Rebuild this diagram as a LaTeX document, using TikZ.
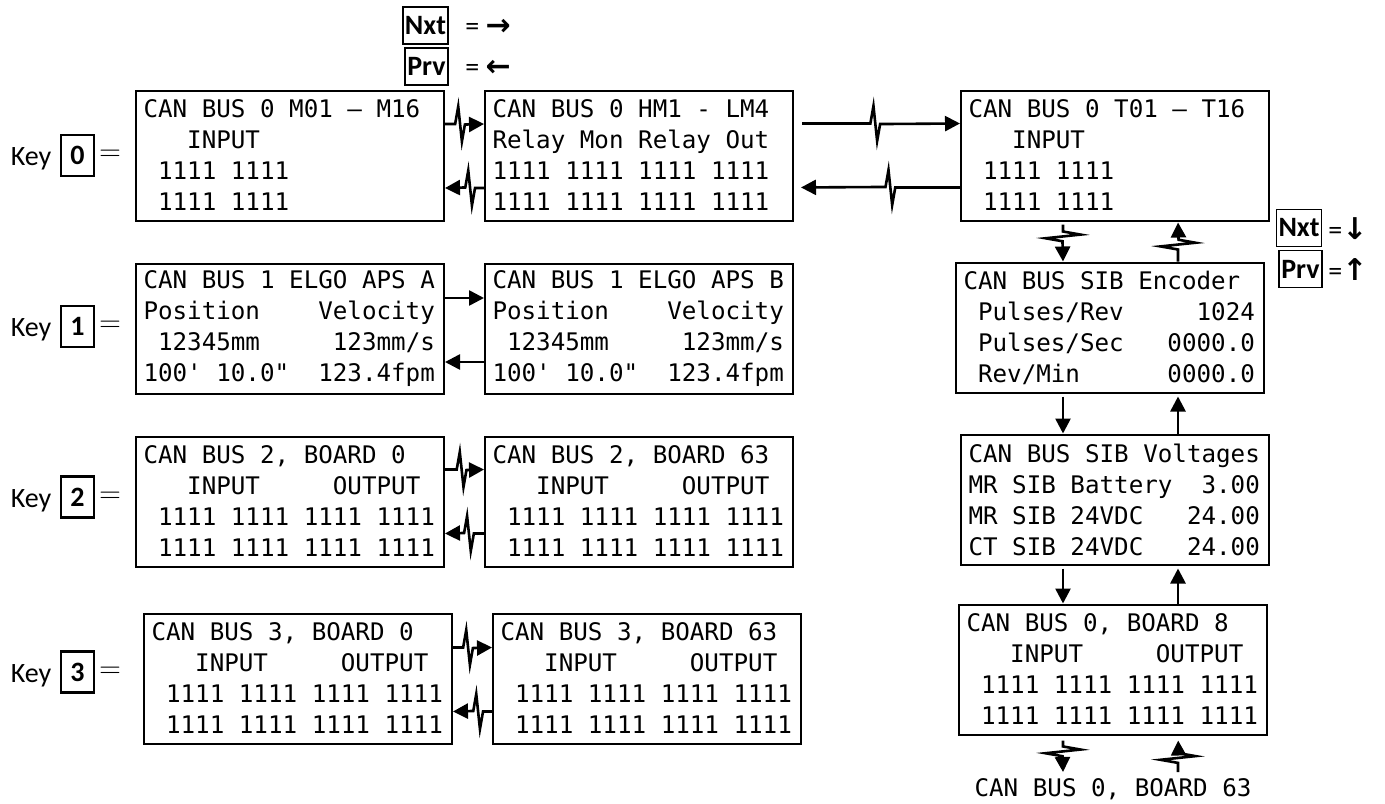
\documentclass[tikz,border=0pt]{standalone}
\usepackage{fontspec}
\setmainfont{Carlito}
\setmonofont{DejaVu Sans Mono}
\newfontfamily\arrowfont{DejaVu Sans}
\usetikzlibrary{positioning, calc, arrows.meta}

\begin{document}
\begin{tikzpicture}[
  x=0.5pt, y=-0.5pt,
  screen/.style={
    draw,
    line width=1pt,
    anchor=west,
    text width=146.5pt,
    inner xsep=3.75pt,
    inner ysep=0pt,
    minimum height=65pt,
    align=left,
    font=\ttfamily\fontsize{12.1}{15.5}\selectfont,
    execute at begin node={\spaceskip=0pt\xspaceskip=0pt},
  },
  keycap/.style={draw, line width=1.3pt, minimum width=16.5pt, minimum height=20.5pt,
    inner sep=0pt, font=\bfseries\fontsize{14}{14}\selectfont},
  softkey/.style={draw, line width=.9pt, inner xsep=1pt, inner ysep=0pt, minimum height=18.5pt,
    font=\bfseries\fontsize{14}{14}\selectfont},
  keytext/.style={inner sep=0pt, font=\fontsize{14}{14}\selectfont},
  link/.style={line width=1.3pt, -{Triangle[length=7.5pt,width=7.5pt]}},
  zz/.style={to path={
    let \p1=(\tikztostart), \p2=(\tikztotarget), \n1={atan2(\y2-\y1,\x2-\x1)} in
    -- ($(\tikztostart)!#1!(\tikztotarget)$)
    -- ++({\n1+80}:8.9pt) -- ++({\n1-84}:17.6pt) -- ++({\n1+80}:8.6pt)
    -- (\tikztotarget) \tikztonodes}},
]
\useasboundingbox (0,0) rectangle (1385,803);

% --- soft keys ---
\node[softkey] (nxtTop) at (425.5,25.5) {Nxt};
\node[softkey] (prvTop) at (426.5,66.5) {Prv};
\node[keytext, anchor=west] (nxtTopEq) at (465,27) {= {\arrowfont\bfseries\fontsize{15}{15}\selectfont →}};
\node[keytext, anchor=west] (prvTopEq) at (465,68) {= {\arrowfont\bfseries\fontsize{15}{15}\selectfont ←}};
\node[softkey] (nxtSide) at (1299,228) {Nxt};
\node[softkey] (prvSide) at (1300.5,269) {Prv};
\node[keytext, anchor=west] (nxtSideEq) at (1328,229) {={\arrowfont\bfseries\fontsize{15}{15}\selectfont ↓}};
\node[keytext, anchor=west] (prvSideEq) at (1328,270) {={\arrowfont\bfseries\fontsize{15}{15}\selectfont ↑}};

% --- key rows ---
\foreach \d/\y in {0/155.5, 1/326.5, 2/497, 3/672} {
  \node[keytext, anchor=base] (key\d) at (31,{\y+10}) {Key};
  \node[keycap] (cap\d) at (77.5,\y) {\d};
  \node[keytext] (eq\d) at (110,\y) {$=$};
}

% --- Key 0 ---
\node[screen] (M16) at (135,155.5) {CAN BUS 0 M01 – M16\\~~~INPUT\\~1111 1111\\~1111 1111};
\node[screen, right=19.5pt of M16] (HM1) {CAN BUS 0 HM1 - LM4\\Relay Mon Relay Out\\1111 1111 1111 1111\\1111 1111 1111 1111};
\node[screen, right=83pt of HM1] (T16) {CAN BUS 0 T01 – T16\\~~~INPUT\\~1111 1111\\~1111 1111};

% --- Key 1 ---
\node[screen, below=20.5pt of M16] (ApsA) {CAN BUS 1 ELGO APS A\\Position~~~~Velocity\\~12345mm~~~~~123mm/s\\100' 10.0"~~123.4fpm};
\node[screen, right=19.5pt of ApsA] (ApsB) {CAN BUS 1 ELGO APS B\\Position~~~~Velocity\\~12345mm~~~~~123mm/s\\100' 10.0"~~123.4fpm};

% --- Key 2 ---
\node[screen, below=20.5pt of ApsA] (BusTwoA) {CAN BUS 2, BOARD 0\\~~~INPUT~~~~~OUTPUT\\~1111 1111 1111 1111\\~1111 1111 1111 1111};
\node[screen, right=19.5pt of BusTwoA] (BusTwoB) {CAN BUS 2, BOARD 63\\~~~INPUT~~~~~OUTPUT\\~1111 1111 1111 1111\\~1111 1111 1111 1111};

% --- Key 3 ---
\node[screen, below=22.5pt of BusTwoA, xshift=4pt] (BusThreeA) {CAN BUS 3, BOARD 0\\~~~INPUT~~~~~OUTPUT\\~1111 1111 1111 1111\\~1111 1111 1111 1111};
\node[screen, right=19.5pt of BusThreeA] (BusThreeB) {CAN BUS 3, BOARD 63\\~~~INPUT~~~~~OUTPUT\\~1111 1111 1111 1111\\~1111 1111 1111 1111};

% --- right column ---
\node[screen, below=20pt of T16, xshift=-2.5pt] (Encoder) {CAN BUS SIB Encoder\\~Pulses/Rev~~~~~1024\\~Pulses/Sec~~~0000.0\\~Rev/Min~~~~~~0000.0};
\node[screen, below=20pt of Encoder, xshift=2.5pt] (Volts) {CAN BUS SIB Voltages\\MR SIB Battery~~3.00\\MR SIB 24VDC~~~24.00\\CT SIB 24VDC~~~24.00};
\node[screen, below=19pt of Volts, xshift=-1pt] (BoardEight) {CAN BUS 0, BOARD 8\\~~~INPUT~~~~~OUTPUT\\~1111 1111 1111 1111\\~1111 1111 1111 1111};
\node[inner sep=3pt, anchor=north, font=\ttfamily\fontsize{12.1}{14}\selectfont] (BoardSixtyThree) at (1113,772) {CAN BUS 0, BOARD 63};

\coordinate (downx) at ([xshift=-26pt]T16.south);
\coordinate (upx) at ([xshift=31.5pt]T16.south);

% horizontal links
\draw[link] ([yshift=15.75pt]M16.east) to[zz=.26] ([yshift=15.75pt]M16.east -| HM1.west);
\draw[link] ([yshift=-16.25pt]HM1.west) to[zz=.23] ([yshift=-16.25pt]HM1.west -| M16.east);
\draw[link, shorten <=4pt] ([yshift=16pt]HM1.east) to[zz=.46] ([yshift=16pt]HM1.east -| T16.west);
\draw[link, shorten >=3.5pt] ([yshift=-16pt]T16.west) to[zz=.39] ([yshift=-16pt]T16.west -| HM1.east);
\draw[link] ([yshift=15.25pt]ApsA.east) -- ([yshift=15.25pt]ApsA.east -| ApsB.west);
\draw[link] ([yshift=-16.75pt]ApsB.west) -- ([yshift=-16.75pt]ApsB.west -| ApsA.east);
\draw[link] ([yshift=16pt]BusTwoA.east) to[zz=.3] ([yshift=16pt]BusTwoA.east -| BusTwoB.west);
\draw[link] ([yshift=-16pt]BusTwoB.west) to[zz=.26] ([yshift=-16pt]BusTwoB.west -| BusTwoA.east);
\draw[link] ([yshift=15.5pt]BusThreeA.east) to[zz=.26] ([yshift=15.5pt]BusThreeA.east -| BusThreeB.west);
\draw[link] ([yshift=-16.5pt]BusThreeB.west) to[zz=.23] ([yshift=-16.5pt]BusThreeB.west -| BusThreeA.east);

% vertical links
\draw[link, shorten <=1.5pt] (T16.south -| downx) to[zz=.25] (Encoder.north -| downx);
\draw[link, shorten >=0.5pt] (Encoder.north -| upx) to[zz=.3] (T16.south -| upx);
\draw[link, shorten <=1.5pt] (Encoder.south -| downx) -- (Volts.north -| downx);
\draw[link, shorten >=1.5pt] (Volts.north -| upx) -- (Encoder.south -| upx);
\draw[link, shorten <=1.5pt] (Volts.south -| downx) -- (BoardEight.north -| downx);
\draw[link, shorten >=1.5pt] (BoardEight.north -| upx) -- (Volts.south -| upx);
\draw[link, shorten <=2.5pt] (BoardEight.south -| downx) to[zz=.3] (BoardSixtyThree.north -| downx);
\draw[link, shorten >=2.5pt] (BoardSixtyThree.north -| upx) to[zz=.25] (BoardEight.south -| upx);
\end{tikzpicture}
\end{document}
